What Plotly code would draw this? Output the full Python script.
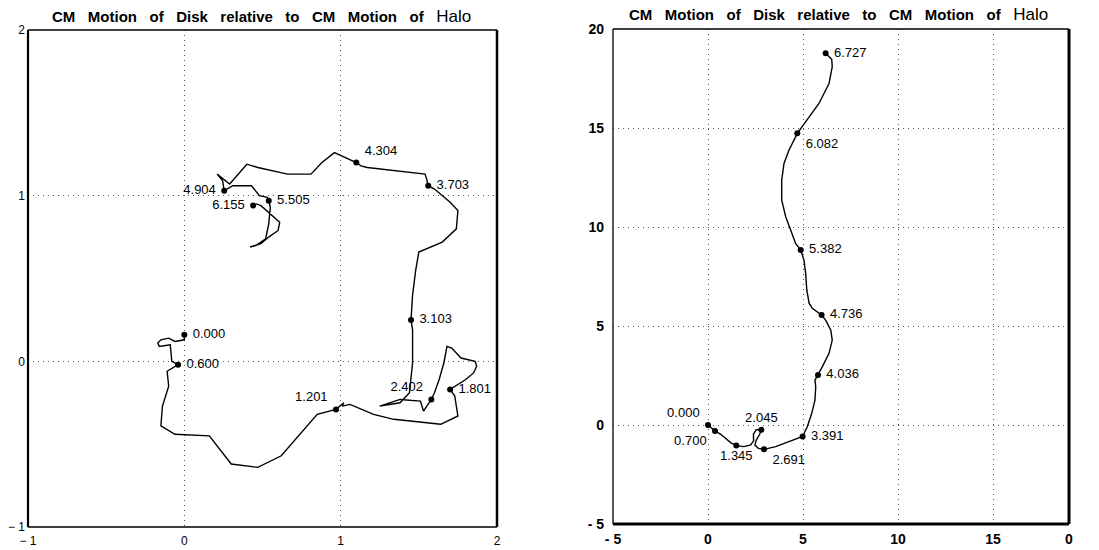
import plotly.graph_objects as go

# ---------------- data ----------------
# Left panel: CM path, label = time stamp where a dot is drawn
left_x = [0.00, 0.00, -0.06, -0.10, -0.15, -0.17, -0.16, -0.09, -0.08, -0.04,
          -0.11, -0.10, -0.14, -0.15, -0.06, 0.16, 0.30, 0.47, 0.62, 0.85,
          0.97, 1.02, 1.01, 1.06, 1.21, 1.34, 1.64, 1.68, 1.75, 1.74,
          1.73, 1.70, 1.80, 1.85, 1.87, 1.86, 1.82, 1.77, 1.71, 1.68,
          1.66, 1.63, 1.60, 1.58, 1.53, 1.51, 1.38, 1.25, 1.38, 1.44,
          1.46, 1.46, 1.45, 1.46, 1.48, 1.50, 1.65, 1.74, 1.75, 1.70,
          1.60, 1.56, 1.55, 1.54, 1.17, 1.13, 1.10, 1.00, 0.96, 0.88,
          0.81, 0.66, 0.47, 0.40, 0.29, 0.21, 0.245, 0.255, 0.31, 0.43,
          0.48, 0.53, 0.54, 0.55, 0.54, 0.52, 0.46, 0.42, 0.49, 0.54,
          0.60, 0.61, 0.55, 0.49, 0.46, 0.44]
left_y = [0.16, 0.13, 0.12, 0.14, 0.13, 0.11, 0.09, 0.10, 0.00, -0.02,
          -0.06, -0.15, -0.27, -0.39, -0.44, -0.45, -0.62, -0.64, -0.57, -0.32,
          -0.29, -0.25, -0.27, -0.26, -0.32, -0.35, -0.38, -0.36, -0.33, -0.27,
          -0.21, -0.17, -0.11, -0.07, -0.03, 0.00, 0.01, 0.02, 0.08, 0.09,
          -0.01, -0.11, -0.19, -0.23, -0.30, -0.24, -0.23, -0.27, -0.25, -0.19,
          -0.01, 0.19, 0.25, 0.40, 0.55, 0.66, 0.72, 0.80, 0.91, 0.96,
          1.04, 1.06, 1.10, 1.13, 1.17, 1.18, 1.20, 1.24, 1.26, 1.20,
          1.13, 1.13, 1.17, 1.19, 1.07, 1.13, 1.09, 1.03, 1.06, 1.06,
          1.00, 0.99, 0.97, 0.93, 0.83, 0.74, 0.70, 0.69, 0.71, 0.75,
          0.79, 0.84, 0.89, 0.94, 0.95, 0.94]
left_lbl = ["0.000", "", "", "", "", "", "", "", "", "0.600",
            "", "", "", "", "", "", "", "", "", "",
            "1.201", "", "", "", "", "", "", "", "", "",
            "", "1.801", "", "", "", "", "", "", "", "",
            "", "", "", "2.402", "", "", "", "", "", "",
            "", "", "3.103", "", "", "", "", "", "", "",
            "", "3.703", "", "", "", "", "4.304", "", "", "",
            "", "", "", "", "", "", "", "4.904", "", "",
            "", "", "5.505", "", "", "", "", "", "", "",
            "", "", "", "", "", "6.155"]

# Right panel
right_x = [0.00, 0.37, 0.67, 0.93, 1.19, 1.49, 1.89, 2.25, 2.40, 2.39,
           2.54, 2.81, 2.72, 2.54, 2.47, 2.65, 2.95, 3.56, 4.26, 4.70,
           4.98, 5.23, 5.46, 5.63, 5.67, 5.63, 5.79, 6.02, 6.37, 6.54,
           6.46, 6.19, 5.98, 5.49, 5.32, 5.20, 5.14, 5.05, 4.88, 4.61,
           4.35, 4.09, 3.88, 3.88, 4.00, 4.26, 4.70, 5.14, 5.84, 6.37,
           6.54, 6.51, 6.19]
right_y = [0.00, -0.30, -0.47, -0.67, -0.89, -1.04, -1.09, -1.01, -0.80, -0.47,
           -0.24, -0.24, -0.47, -0.76, -1.01, -1.18, -1.23, -1.09, -0.84, -0.67,
           -0.58, -0.08, 0.59, 1.26, 1.93, 2.27, 2.53, 2.95, 3.62, 4.29,
           4.80, 5.30, 5.56, 5.89, 6.15, 6.82, 7.66, 8.33, 8.84, 9.17,
           9.85, 10.52, 11.36, 12.37, 13.21, 13.88, 14.73, 15.31, 16.24, 17.25,
           18.10, 18.47, 18.77]
right_lbl = ["0.000", "0.700", "", "", "", "1.345", "", "", "", "",
             "", "2.045", "", "", "", "", "2.691", "", "", "",
             "3.391", "", "", "", "", "", "4.036", "", "", "",
             "", "", "4.736", "", "", "", "", "", "5.382", "",
             "", "", "", "", "", "", "6.082", "", "", "",
             "", "", "6.727"]

title_words = ["CM", "Motion", "of", "Disk", "relative", "to", "CM", "Motion", "of"]
title_last = "Halo"

left_ticks = [-1, 0, 1, 2]
left_ticktext = ["\u2212 1", "0", "1", "2"]
right_xticks = [-5, 0, 5, 10, 15, 19]
right_xticktext = ["- 5", "0", "5", "10", "15", "0"]
right_yticks = [-5, 0, 5, 10, 15, 20]
right_yticktext = ["- 5", "0", "5", "10", "15", "20"]

# ---------------- styles ----------------
left_pos = {"0.000": "middle right", "0.600": "middle right", "1.201": "top left",
            "1.801": "middle right", "2.402": "top left", "3.103": "middle right",
            "3.703": "middle right", "4.304": "top right", "4.904": "middle left",
            "5.505": "middle right", "6.155": "middle left"}
right_pos = {"0.000": "top left", "0.700": "bottom left", "1.345": "bottom center",
             "2.045": "top center", "2.691": "bottom right", "3.391": "middle right",
             "4.036": "middle right", "4.736": "middle right", "5.382": "middle right",
             "6.082": "bottom right", "6.727": "middle right"}

FONT = "Liberation Sans"
fig = go.Figure()


def add_panel(xs, ys, lbls, pos, xa, ya):
    fig.add_trace(go.Scatter(x=xs, y=ys, mode="lines", xaxis=xa, yaxis=ya,
                             line=dict(color="black", width=1.4), showlegend=False,
                             hoverinfo="skip"))
    mx = [x for x, l in zip(xs, lbls) if l]
    my = [y for y, l in zip(ys, lbls) if l]
    mt = [l for l in lbls if l]
    fig.add_trace(go.Scatter(x=mx, y=my, mode="markers+text", xaxis=xa, yaxis=ya,
                             text=[" " + t + " " for t in mt],
                             textposition=[pos[t] for t in mt],
                             textfont=dict(family=FONT, size=13, color="black"),
                             marker=dict(color="black", size=6), showlegend=False))


add_panel(left_x, left_y, left_lbl, left_pos, "x", "y")
add_panel(right_x, right_y, right_lbl, right_pos, "x2", "y2")

W, H = 1099, 550
grid = dict(showgrid=True, gridcolor="#555", griddash="1px,4px", gridwidth=1,
            zeroline=False, ticks="", showline=False, automargin=False)

fig.update_layout(
    width=W, height=H, margin=dict(l=0, r=0, t=0, b=0),
    paper_bgcolor="white", plot_bgcolor="white",
    xaxis=dict(domain=[28 / W, 497 / W], range=[-1, 2], tickvals=left_ticks,
               ticktext=left_ticktext, anchor="y", ticklabelstandoff=5,
               tickfont=dict(family=FONT, size=12, color="black"), **grid),
    yaxis=dict(domain=[(H - 527) / H, (H - 30) / H], range=[-1, 2], tickvals=left_ticks,
               ticktext=left_ticktext, anchor="x", ticklabelstandoff=2,
               tickfont=dict(family=FONT, size=12, color="black"), **grid),
    xaxis2=dict(domain=[613 / W, 1069 / W], range=[-5, 19], tickvals=right_xticks,
                ticktext=right_xticktext, anchor="y2", ticklabelstandoff=5,
                tickfont=dict(family=FONT, size=14, color="black", weight="bold"), **grid),
    yaxis2=dict(domain=[(H - 524) / H, (H - 29) / H], range=[-5, 20], tickvals=right_yticks,
                ticktext=right_yticktext, anchor="x2", ticklabelstandoff=8,
                tickfont=dict(family=FONT, size=14, color="black", weight="bold"), **grid),
)


def frame(xr, yr, widths):
    left_w, right_w, top_w, bottom_w = widths
    for (x0, y0, x1, y1, w) in [(0, 0, 0, 1, left_w), (1, 0, 1, 1, right_w),
                                 (0, 1, 1, 1, top_w), (0, 0, 1, 0, bottom_w)]:
        fig.add_shape(type="line", xref=xr + " domain", yref=yr + " domain",
                      x0=x0, y0=y0, x1=x1, y1=y1, line=dict(color="black", width=w))


frame("x", "y", (2.2, 2.5, 1.3, 1.3))
frame("x2", "y2", (1.3, 3, 1.3, 3))

gap = "&nbsp;&nbsp;&nbsp;"
title_text = "<b>" + gap.join(title_words) + "</b>" + gap + \
    "<span style='font-size:17px'>" + title_last + "</span>"

fig.add_annotation(text=title_text, xref="paper", yref="paper", x=261 / W, y=(H - 17) / H,
                   xanchor="center", yanchor="middle",
                   showarrow=False, font=dict(family=FONT, size=15, color="black"))
fig.add_annotation(text=title_text, xref="paper", yref="paper", x=838 / W, y=(H - 14) / H,
                   xanchor="center", yanchor="middle",
                   showarrow=False, font=dict(family=FONT, size=15, color="black"))

fig.write_html("out.html")
